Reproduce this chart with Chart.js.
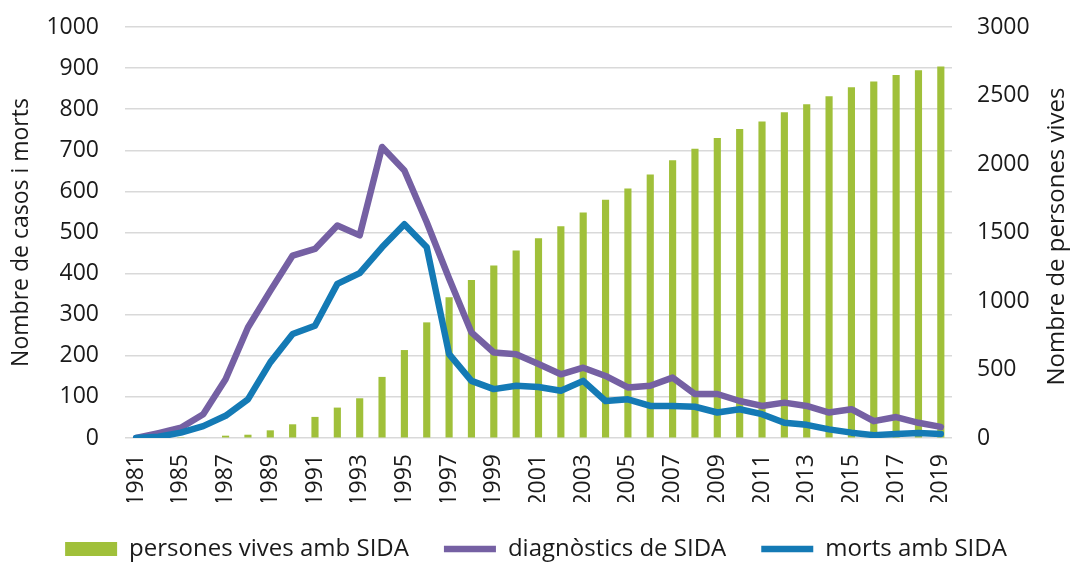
<!DOCTYPE html>
<html>
<head>
<meta charset="utf-8">
<script src="https://cdn.jsdelivr.net/npm/chart.js@4/dist/chart.umd.min.js"></script>
<style>
    html, body { margin: 0; padding: 0; background: #fff; }
    #wrap { width: 1072px; height: 563px; }
</style>
</head>
<body>
<div id="wrap"><canvas id="chart" width="1072" height="563"></canvas></div>
<script>
var years = ['1981', '1984', '1985', '1986', '1987', '1988', '1989', '1990', '1991', '1992',
    '1993', '1994', '1995', '1996', '1997', '1998', '1999', '2000', '2001', '2002',
    '2003', '2004', '2005', '2006', '2007', '2008', '2009', '2010', '2011', '2012',
    '2013', '2014', '2015', '2016', '2017', '2018', '2019'];

var livingWithAids = [0, 0, 1, 4, 17, 24, 56, 100, 154, 222,
    290, 446, 642, 844, 1027, 1154, 1259, 1368, 1458, 1546,
    1646, 1739, 1822, 1924, 2027, 2112, 2190, 2256, 2310, 2378,
    2437, 2495, 2561, 2602, 2649, 2685, 2712];

var diagnoses = [0, 12, 25, 58, 143, 269, 358, 444, 460, 517,
    493, 708, 651, 525, 388, 257, 208, 204, 180, 155,
    171, 151, 123, 127, 147, 107, 107, 90, 78, 86,
    78, 62, 70, 41, 51, 37, 27];

var deaths = [0, 3, 13, 29, 54, 94, 184, 253, 273, 375,
    401, 464, 520, 464, 204, 139, 119, 127, 124, 115,
    139, 90, 94, 78, 78, 76, 62, 70, 58, 37,
    32, 21, 13, 7, 10, 12, 10];

var leftTitle = 'Nombre de casos i morts';
var rightTitle = 'Nombre de persones vives';

var fontFamily = '"Open Sans", "Noto Sans", sans-serif';
var textColor = '#1a1a1a';

// right axis title reads bottom-to-top like the left one, so draw it by hand
var rightTitlePlugin = {
    id: 'rightTitle',
    afterDraw: function (chart) {
        var ctx = chart.ctx;
        var area = chart.chartArea;
        ctx.save();
        ctx.translate(1057, (area.top + area.bottom) / 2 + 4);
        ctx.rotate(-Math.PI / 2);
        ctx.font = '24px ' + fontFamily;
        ctx.fillStyle = textColor;
        ctx.textAlign = 'center';
        ctx.textBaseline = 'middle';
        ctx.fillText(rightTitle, 0, 0);
        ctx.restore();
    }
};

function plainTick(value) {
    return String(value);
}

Chart.defaults.font.family = fontFamily;
Chart.defaults.font.size = 23;
Chart.defaults.color = textColor;

var ctx = document.getElementById('chart').getContext('2d');
var chart = new Chart(ctx, {
    type: 'bar',
    data: {
        labels: years,
        datasets: [{
            type: 'bar',
            label: 'persones vives amb SIDA',
            data: livingWithAids,
            yAxisID: 'y1',
            backgroundColor: '#a0c03a',
            borderWidth: 0,
            barPercentage: 0.32,
            categoryPercentage: 1,
            pointStyle: 'rect',
            order: 2
        }, {
            type: 'line',
            label: 'diagnòstics de SIDA',
            data: diagnoses,
            yAxisID: 'y',
            borderColor: '#7560a3',
            backgroundColor: '#7560a3',
            borderWidth: 6.5,
            borderCapStyle: 'round',
            borderJoinStyle: 'round',
            pointRadius: 0,
            pointStyle: 'line',
            tension: 0,
            order: 1
        }, {
            type: 'line',
            label: 'morts amb SIDA',
            data: deaths,
            yAxisID: 'y',
            borderColor: '#147ab5',
            backgroundColor: '#147ab5',
            borderWidth: 6.5,
            borderCapStyle: 'round',
            borderJoinStyle: 'round',
            pointRadius: 0,
            pointStyle: 'line',
            tension: 0,
            order: 0
        }]
    },
    options: {
        responsive: false,
        animation: false,
        layout: { padding: { top: 27, bottom: -8, left: 0, right: 0 } },
        plugins: {
            tooltip: { enabled: false },
            legend: {
                position: 'bottom',
                labels: {
                    usePointStyle: true,
                    pointStyleWidth: 52,
                    boxHeight: 14,
                    padding: 35,
                    font: { size: 24 },
                    sort: function (a, b) { return a.datasetIndex - b.datasetIndex; }
                }
            }
        },
        scales: {
            x: {
                offset: true,
                grid: { display: false, drawTicks: false },
                border: { display: false },
                ticks: {
                    autoSkip: false,
                    minRotation: 90,
                    maxRotation: 90,
                    padding: 16,
                    callback: function (value, index) {
                        return index % 2 === 0 ? this.getLabelForValue(value) : '';
                    }
                },
                afterFit: function (scale) { scale.height = 64; }
            },
            y: {
                position: 'left',
                min: 0,
                max: 1000,
                ticks: { stepSize: 100, padding: 2, callback: plainTick },
                grid: {
                    color: '#d9d9d9',
                    lineWidth: 1.5,
                    drawTicks: true,
                    tickLength: 24,
                    tickColor: 'rgba(0,0,0,0)'
                },
                border: { display: false },
                title: {
                    display: true,
                    text: leftTitle,
                    font: { size: 23 },
                    padding: { top: 8, bottom: 0 }
                },
                afterFit: function (scale) { scale.width = 125; }
            },
            y1: {
                position: 'right',
                min: 0,
                max: 3000,
                ticks: { stepSize: 500, padding: 2, callback: plainTick },
                grid: {
                    drawOnChartArea: false,
                    drawTicks: true,
                    tickLength: 23,
                    tickColor: 'rgba(0,0,0,0)'
                },
                border: { display: false },
                afterFit: function (scale) { scale.width = 120; }
            }
        }
    },
    plugins: [rightTitlePlugin]
});
</script>
</body>
</html>
